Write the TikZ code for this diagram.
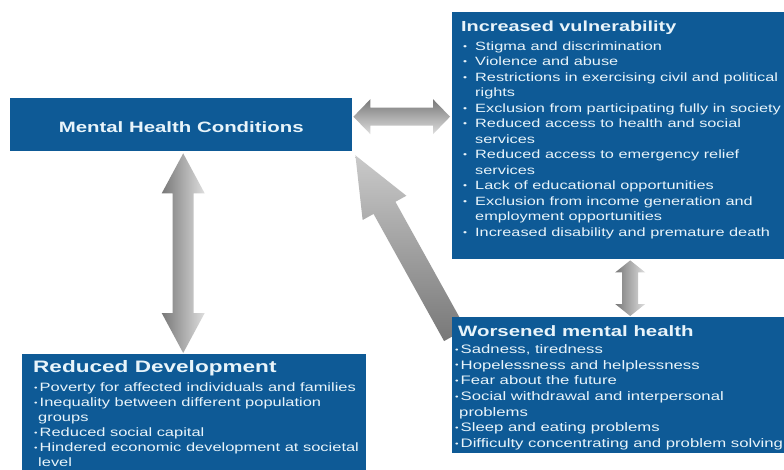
\documentclass[tikz,border=0pt]{standalone}
\usepackage{fontspec}
\setmainfont{Liberation Sans}[FakeStretch=1.36]
\usetikzlibrary{calc}
\pgfdeclarelayer{bg}
\pgfsetlayers{bg,main}
\definecolor{boxblue}{RGB}{14,90,150}
\definecolor{txt}{RGB}{232,244,250}
\definecolor{ardark}{RGB}{120,120,120}
\definecolor{arlight}{RGB}{222,222,222}
\newcommand\ivb{\makebox[12pt][l]{\raisebox{0.15ex}{\scalebox{0.7}{•}}}}
\newcommand\ivc{\hspace*{12pt}}
\newcommand\smb{\makebox[5.5pt][l]{\raisebox{0.2ex}{\scalebox{0.6}{•}}}}
\newcommand\smc{\hspace*{4pt}}
% fat double arrow: style, start, end, shaft half, head half, head length
\newcommand\fatdbl[6]{%
  \coordinate (fa1) at ($(#2)!#6!(#3)$);
  \coordinate (fa2) at ($(#3)!#6!(#2)$);
  \shade[#1] (#2) -- ($(fa1)!#5!90:(#3)$) -- ($(fa1)!#4!90:(#3)$)
    -- ($(fa2)!#4!-90:(#2)$) -- ($(fa2)!#5!-90:(#2)$) -- (#3)
    -- ($(fa2)!#5!90:(#2)$) -- ($(fa2)!#4!90:(#2)$)
    -- ($(fa1)!#4!-90:(#3)$) -- ($(fa1)!#5!-90:(#3)$) -- cycle;}
% fat single arrow: style, tail, tip, shaft half, head half, head length
\newcommand\fatsgl[6]{%
  \coordinate (fa1) at ($(#3)!#6!(#2)$);
  \shade[#1] (#2) -- ($(#2)!#4!90:(#3)$) -- ($(fa1)!#4!-90:(#2)$)
    -- ($(fa1)!#5!-90:(#2)$) -- (#3) -- ($(fa1)!#5!90:(#2)$)
    -- ($(fa1)!#4!90:(#2)$) -- ($(#2)!#4!-90:(#3)$) -- cycle;}
\begin{document}
\begin{tikzpicture}[x=1pt,y=-1pt,
  box/.style={fill=boxblue, draw=none, inner sep=0pt, anchor=north west},
  ttl/.style={text=txt, inner sep=0pt, font=\bfseries\fontsize{15}{18}\selectfont},
  body/.style={text=txt, inner sep=0pt, align=left, anchor=north west},
  vshade/.style={left color=ardark, right color=arlight},
  hshade/.style={top color=ardark, bottom color=arlight},
  dshade/.style={top color=arlight!80!ardark, bottom color=ardark}]
\useasboundingbox (0,0) rectangle (784,470);
\begin{pgfonlayer}{bg}
\fill[white] (0,0) rectangle (784,470);
\end{pgfonlayer}

% boxes
\node[box, minimum width=342pt, minimum height=53pt] (mhc) at (10,98) {};
\node[box, minimum width=332pt, minimum height=247pt] (iv) at (452,12) {};
\node[box, minimum width=332pt, minimum height=136pt] (wmh) at (452,317) {};
\node[box, minimum width=344pt, minimum height=117pt] (rd) at (22,354) {};

% texts
\node[ttl] (mhct) at ([yshift=-2pt]mhc.center) {Mental Health Conditions};

\node[ttl, anchor=base west, font=\bfseries\fontsize{14.6}{18}\selectfont] (ivt) at (461,31.5) {Increased vulnerability};
\node[body, font=\fontsize{12}{15.5}\selectfont] (ivx) at (463,41.3) {%
\ivb Stigma and discrimination\\
\ivb Violence and abuse\\
\ivb Restrictions in exercising civil and political\\
\ivc rights\\
\ivb Exclusion from participating fully in society\\
\ivb Reduced access to health and social\\
\ivc services\\
\ivb Reduced access to emergency relief\\
\ivc services\\
\ivb Lack of educational opportunities\\
\ivb Exclusion from income generation and\\
\ivc employment opportunities\\
\ivb Increased disability and premature death};

\node[ttl, anchor=base west, font=\bfseries\fontsize{15}{18}\selectfont] (wmht) at (458,336) {Worsened mental health};
\node[body, font=\fontsize{12.3}{15.7}\selectfont] (wmhx) at (455,344.2) {%
\smb Sadness, tiredness\\
\smb Hopelessness and helplessness\\
\smb Fear about the future\\
\smb Social withdrawal and interpersonal\\
\smc problems\\
\smb Sleep and eating problems\\
\smb Difficulty concentrating and problem solving};

\node[ttl, anchor=base west, font=\bfseries\fontsize{16.6}{20}\selectfont] (rdt) at (33,372) {Reduced Development};
\node[body, font=\fontsize{12.1}{15}\selectfont] (rdx) at (34,382.4) {%
\smb Poverty for affected individuals and families\\
\smb Inequality between different population\\
\smc groups\\
\smb Reduced social capital\\
\smb Hindered economic development at societal\\
\smc level};

% arrows
\begin{pgfonlayer}{bg}
\coordinate (ha) at ([shift={(1,-8)}]mhc.east);
\coordinate (hb) at ([xshift=-2pt]ha -| iv.west);
\fatdbl{hshade}{ha}{hb}{9pt}{17.5pt}{17pt}
\coordinate (va) at ([shift={(2,2)}]mhc.south);
\coordinate (vb) at ([yshift=1pt]va |- rd.north);
\fatdbl{vshade}{va}{vb}{10.5pt}{21.5pt}{40pt}
\coordinate (wa) at ([shift={(12,1)}]iv.south);
\coordinate (wb) at ([yshift=1pt]wa |- wmh.north);
\fatdbl{vshade}{wa}{wb}{8pt}{15pt}{12pt}
\coordinate (da) at ([shift={(3,18)}]wmh.north west);
\coordinate (db) at ([shift={(3,4)}]mhc.south east);
\fatsgl{dshade}{da}{db}{12.5pt}{25pt}{60pt}
\end{pgfonlayer}
\end{tikzpicture}
\end{document}
